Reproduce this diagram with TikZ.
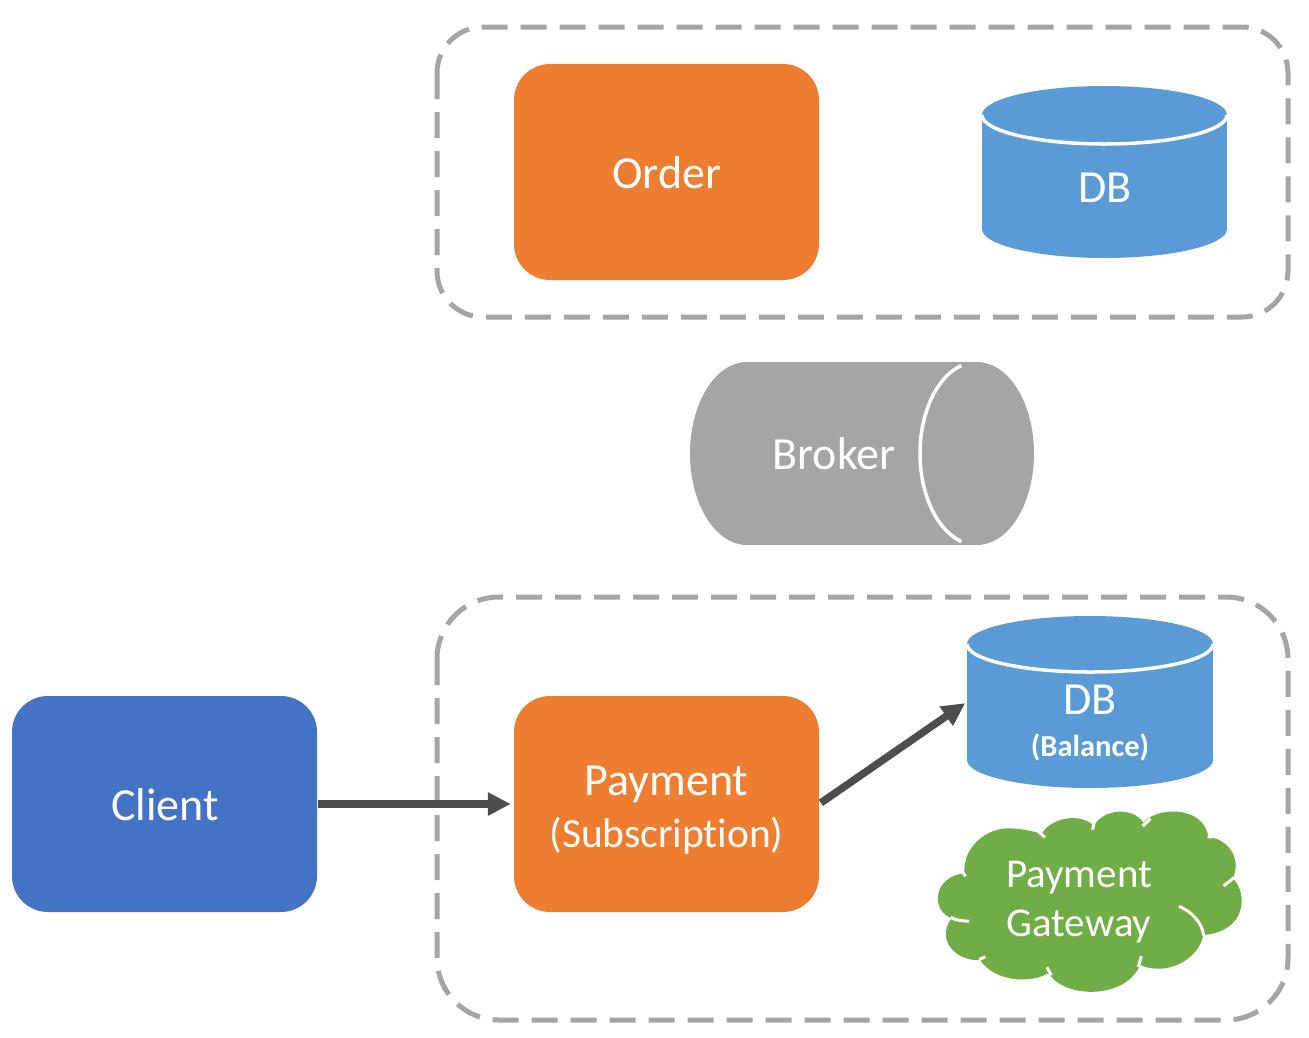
\documentclass[tikz,border=0pt]{standalone}
\usepackage{fontspec}
\setmainfont[Ligatures={NoCommon}]{Carlito}
\usetikzlibrary{arrows.meta}
\definecolor{cOrange}{HTML}{ED7D31}
\definecolor{cBlue}{HTML}{4472C4}
\definecolor{cSky}{HTML}{5B9BD5}
\definecolor{cGray}{HTML}{A5A5A5}
\definecolor{cGreen}{HTML}{70AD47}
\definecolor{cArrow}{HTML}{4D4D4D}
\tikzset{
  box/.style={fill=#1, rounded corners=36pt, minimum width=305pt, minimum height=216pt, inner sep=0pt},
  txt/.style={text=white, inner sep=0pt, align=center, font=\fontsize{46}{52}\selectfont},
  group/.style={draw=cGray, line width=5pt, dash pattern=on 26pt off 13pt},
  link/.style={draw=cArrow, line width=7.5pt, -{Triangle[length=23pt,width=22pt]}},
  cut/.style={draw=white, line width=3.5pt},
}
\begin{document}
\begin{tikzpicture}[x=1pt,y=-1pt]
\useasboundingbox (0,0) rectangle (1309,1037);
% groups
\draw[group, rounded corners=46pt] (437,27) rectangle (1288,317);
\draw[group, rounded corners=62pt] (437,597) rectangle (1288,1020);
% boxes
\node[box=cBlue] (client) at (164.5,804) {};
\node[txt] (clienttext) at (165,805) {Client};
\node[box=cOrange] (order) at (666.5,172) {};
\node[txt] (ordertext) at (667,173) {Order};
\node[box=cOrange] (payment) at (666.5,804) {};
\node[txt] (paytext) at (666.5,784) {Payment};
\node[txt, font=\fontsize{41.5}{50}\selectfont] (paysub) at (666.5,836) {(Subscription)};
% DB top
\fill[cSky] (1104.5,115) ellipse[x radius=122.5pt, y radius=29pt];
\fill[cSky] (1104.5,229) ellipse[x radius=122.5pt, y radius=29pt];
\fill[cSky] (982,115) rectangle (1227,229);
\draw[cut] (982,115) arc[x radius=122.5pt, y radius=29pt, start angle=180, end angle=360];
\node[minimum width=245pt, minimum height=172pt, inner sep=0pt] (db1) at (1104.5,172) {};
\node[txt] (db1t) at (1105,188) {DB};
% DB bottom
\fill[cSky] (1090,644) ellipse[x radius=123pt, y radius=28pt];
\fill[cSky] (1090,760) ellipse[x radius=123pt, y radius=28pt];
\fill[cSky] (967,644) rectangle (1213,760);
\draw[cut] (967,644) arc[x radius=123pt, y radius=28pt, start angle=180, end angle=360];
\node[minimum width=246pt, minimum height=172pt, inner sep=0pt] (db2) at (1090,702) {};
\node[txt] (db2t) at (1090,700) {DB};
\node[txt, font=\fontsize{30.5}{36}\selectfont\bfseries] (db2b) at (1090,747) {(Balance)};
% Broker
\fill[cGray] (747,453.5) ellipse[x radius=57pt, y radius=91.5pt];
\fill[cGray] (977,453.5) ellipse[x radius=57pt, y radius=91.5pt];
\fill[cGray] (747,362) rectangle (977,545);
\draw[cut] (977,453.5) ++(106:57pt and 91.5pt) arc[x radius=57pt, y radius=91.5pt, start angle=106, end angle=254];
\node[txt] (broker) at (834,454) {Broker};
% Cloud (zoom coordinates)
\begin{scope}[shift={(920,790)}, x=0.3333pt, y=-0.3333pt]
\fill[cGreen] (133,250) .. controls (128,170) and (200,115) .. (265,115)
  .. controls (305,115) and (345,125) .. (365,132)
  .. controls (390,85) and (480,65) .. (522,108)
  .. controls (550,55) and (640,50) .. (670,98)
  .. controls (710,50) and (850,45) .. (865,140)
  .. controls (930,150) and (965,210) .. (938,265)
  .. controls (985,310) and (980,425) .. (850,435)
  .. controls (835,510) and (740,560) .. (660,525)
  .. controls (620,625) and (440,630) .. (385,550)
  .. controls (320,585) and (220,570) .. (180,510)
  .. controls (110,515) and (45,450) .. (95,385)
  .. controls (30,360) and (40,260) .. (133,250) -- cycle;
\draw[cut, line width=3pt] (127,246) -- (137,259);
\draw[cut, line width=3pt] (354,124) -- (375,142);
\draw[cut, line width=3pt] (522,96) -- (518,119);
\draw[cut, line width=3pt] (692,86) -- (668,108);
\draw[cut, line width=3pt] (863,141) -- (880,140);
\draw[cut, line width=3pt] (942,263) -- (911,288);
\draw[cut, line width=3pt] (777,349) .. controls (815,365) and (845,395) .. (851,436);
\draw[cut, line width=3pt] (664,498) -- (655,531);
\draw[cut, line width=3pt] (381,532) -- (394,556);
\draw[cut, line width=3pt] (196,500) -- (177,509);
\draw[cut, line width=3pt] (92,382) .. controls (110,392) and (130,394) .. (147,393);
\end{scope}
\node[txt, font=\fontsize{41}{49}\selectfont] (gateway) at (1079,902) {Payment\\Gateway};
% connectors
\draw[link, shorten <=1pt, shorten >=3pt] (client.east) -- (payment.west);
\draw[link, shorten <=2pt, shorten >=2pt] (payment.east) -- (db2.west);
\end{tikzpicture}
\end{document}
